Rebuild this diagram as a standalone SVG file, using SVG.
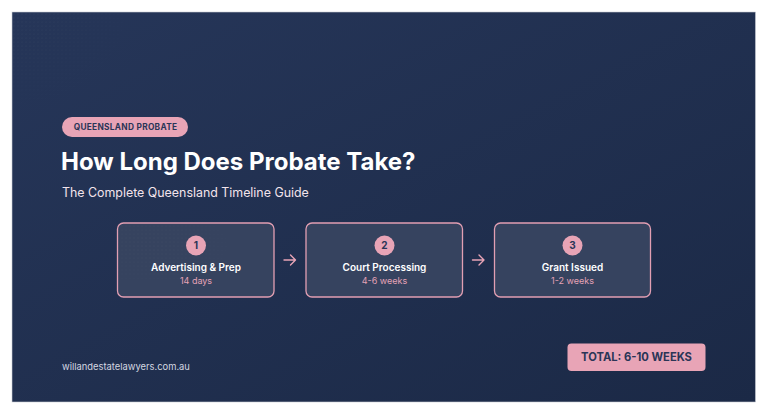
<svg xmlns="http://www.w3.org/2000/svg" width="768" height="414" viewBox="0 0 768 414">
  <defs>
    <linearGradient id="bg" x1="0" y1="0" x2="1" y2="1">
      <stop offset="0" stop-color="#263659"/>
      <stop offset="1" stop-color="#1b2946"/>
    </linearGradient>
    <pattern id="dots" width="4" height="4" patternUnits="userSpaceOnUse">
      <circle cx="2" cy="2" r="0.55" fill="#ffffff" fill-opacity="0.08"/>
    </pattern>
    <radialGradient id="fade" cx="0" cy="0" r="1">
      <stop offset="0" stop-color="#fff" stop-opacity="1"/>
      <stop offset="1" stop-color="#fff" stop-opacity="0"/>
    </radialGradient>
    <mask id="tlmask">
      <rect x="12" y="12" width="160" height="130" fill="url(#fade)"/>
    </mask>
    <radialGradient id="fade2" cx="0.2" cy="0.3" r="0.8">
      <stop offset="0" stop-color="#fff" stop-opacity="0.8"/>
      <stop offset="1" stop-color="#fff" stop-opacity="0"/>
    </radialGradient>
    <mask id="b1mask">
      <rect x="117" y="223" width="157" height="74" fill="url(#fade2)"/>
    </mask>
  </defs>
  <style>
    .font { font-family: Inter, "Liberation Sans", sans-serif; }
    .box { fill: #36435f; stroke: #e29fb3; stroke-width: 1.3; }
    .num-c { fill: #e8a4b6; }
    .num { font-size: 10px; font-weight: 700; fill: #2a3556; text-anchor: middle; }
    .lbl { font-size: 10px; font-weight: 600; fill: #ffffff; text-anchor: middle; }
    .sub { font-size: 9px; fill: #e4a2b6; text-anchor: middle; }
    .conn { fill: none; stroke: #e8a4b6; stroke-width: 1.4; stroke-linecap: round; stroke-linejoin: round; }
  </style>

  <rect x="0" y="0" width="768" height="414" fill="#ffffff"/>
  <rect x="12" y="12" width="743.5" height="390" fill="url(#bg)" stroke="#c9ccd4" stroke-width="0.6"/>
  <rect x="12" y="12" width="160" height="130" fill="url(#dots)" mask="url(#tlmask)"/>

  <g id="badge" class="font">
    <rect x="62" y="117" width="126" height="20" rx="10" fill="#e8a4b6"/>
    <text x="125.5" y="130.3" font-size="8.3" font-weight="700" fill="#2a3556" text-anchor="middle" letter-spacing="0.3">QUEENSLAND PROBATE</text>
  </g>

  <g id="title" class="font">
    <text x="61" y="169.5" font-size="24" font-weight="700" fill="#ffffff">How Long Does Probate Take?</text>
    <text x="62" y="196.5" font-size="12.4" fill="#f3e4ec">The Complete Queensland Timeline Guide</text>
  </g>

  <g id="step1" class="font">
    <rect class="box" x="117.5" y="223" width="156.5" height="74" rx="6"/>
    <rect x="117.5" y="223" width="156.5" height="74" rx="6" fill="url(#dots)" mask="url(#b1mask)"/>
    <circle class="num-c" cx="196" cy="245.5" r="10"/>
    <text class="num" x="196" y="249">1</text>
    <text class="lbl" x="196" y="270.5">Advertising &amp; Prep</text>
    <text class="sub" x="196" y="283.5">14 days</text>
  </g>

  <g id="step2" class="font">
    <rect class="box" x="306" y="223" width="156.5" height="74" rx="6"/>
    <circle class="num-c" cx="384.5" cy="245.5" r="10"/>
    <text class="num" x="384.5" y="249">2</text>
    <text class="lbl" x="384.5" y="270.5">Court Processing</text>
    <text class="sub" x="384.5" y="283.5">4-6 weeks</text>
  </g>

  <g id="step3" class="font">
    <rect class="box" x="494.5" y="223" width="156" height="74" rx="6"/>
    <circle class="num-c" cx="572.5" cy="245.5" r="10"/>
    <text class="num" x="572.5" y="249">3</text>
    <text class="lbl" x="572.5" y="270.5">Grant Issued</text>
    <text class="sub" x="572.5" y="283.5">1-2 weeks</text>
  </g>

  <g id="connectors">
    <path class="conn" d="M284 260 H295.5 M290.5 255 L295.5 260 L290.5 265"/>
    <path class="conn" d="M472.5 260 H484 M479 255 L484 260 L479 265"/>
  </g>

  <g id="total" class="font">
    <rect x="567.5" y="343.5" width="138" height="27.5" rx="4" fill="#e8a4b6"/>
    <text x="636.5" y="361.3" font-size="11.2" font-weight="700" fill="#2a3556" text-anchor="middle">TOTAL: 6-10 WEEKS</text>
  </g>

  <g id="footer" class="font">
    <text x="62" y="369.5" font-size="9.4" fill="#d3d7e0">willandestatelawyers.com.au</text>
  </g>
</svg>
